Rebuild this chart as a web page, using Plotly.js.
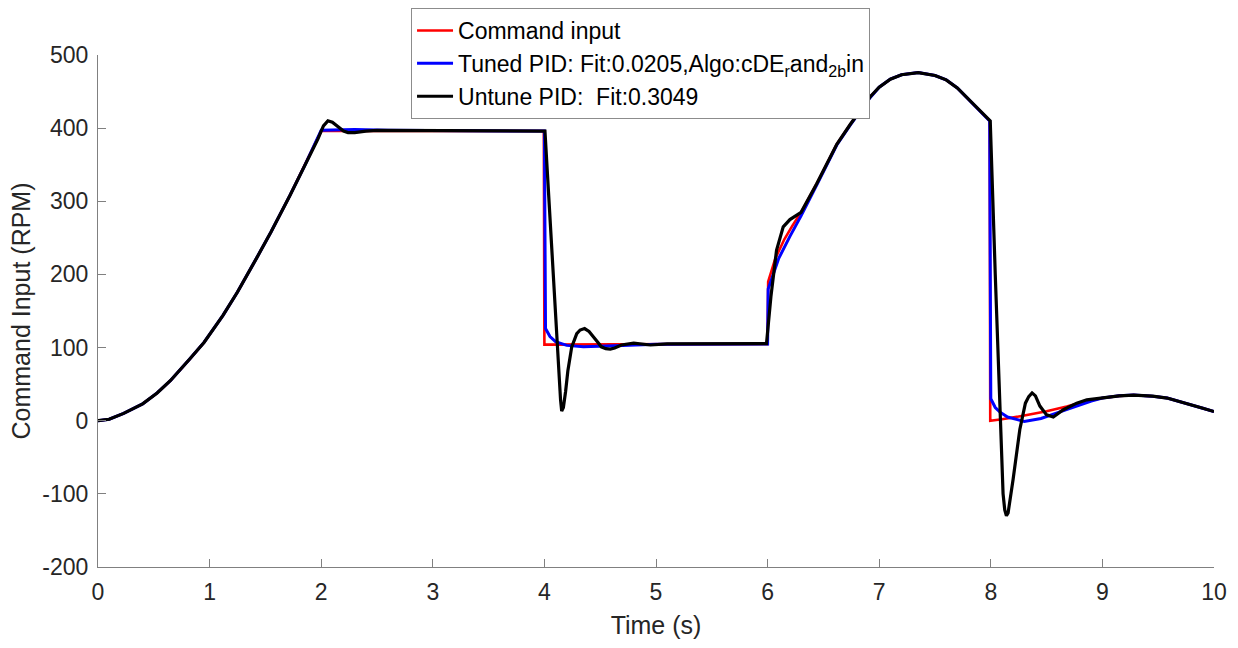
<!DOCTYPE html>
<html>
<head>
<meta charset="utf-8">
<script src="https://cdn.plot.ly/plotly-3.0.1.min.js"></script>
<style>html,body{margin:0;padding:0;background:#fff;}#chart{width:1238px;height:648px;}</style>
</head>
<body>
<div id="chart"></div>
<script>
// ---- Data (time in s, speed in RPM) ----
const cmdTime = [0,0.1,0.23,0.4,0.53,0.65,0.82,0.95,1.12,1.25,1.42,1.55,1.72,1.85,2.0,
  3.995,4.0,6.0,6.005,6.07,6.15,6.22,6.3,6.44,6.53,6.62,6.74,6.83,6.92,7.0,7.1,7.2,7.35,7.5,7.6,7.7,7.85,7.99,
  7.995,8.1,8.3,8.5,8.68,8.86,9.0,9.15,9.28,9.45,9.58,9.75,9.9,10.0];
const cmdRpm = [0,2,10,23,38,55,84,107,144,176,222,258,308,348,396,
  396,104,105,190,222,248,266,285,324,352,378,405,424,443,456,467,473,476,472,466,455,432,410,
  0,2,7,13,19.5,27,31,34,35,33.5,31,24,17,12.5];

const tunedTime = [0,0.1,0.23,0.4,0.53,0.65,0.82,0.95,1.12,1.25,1.42,1.55,1.72,1.85,2.0,
  2.3,2.6,4.0,4.01,4.05,4.1,4.2,4.35,4.5,4.7,5.0,6.0,6.005,6.1,6.2,6.3,6.44,6.53,6.62,6.74,6.83,6.92,7.0,7.1,7.2,7.35,7.5,7.6,7.7,7.85,7.99,
  8.0,8.04,8.08,8.15,8.3,8.45,8.6,8.75,8.9,9.0,9.15,9.28,9.45,9.58,9.75,9.9,10.0];
const tunedRpm = [0,2,10,23,38,55,84,107,144,176,222,258,308,348,397,
  398,397,396,126,115,108,103,101,101.5,103,104.5,105,180,222,252,280,322,350,377,404,423,442,456,467,473,476,472,466,455,432,410,
  30,18,12,5,-1,3,11,19,27,31,34,35,33.5,31,24,17,12.5];

const untunedTime = [0,0.1,0.23,0.4,0.53,0.65,0.82,0.95,1.12,1.25,1.42,1.55,1.72,1.85,1.97,
  2.02,2.06,2.1,2.15,2.2,2.24,2.3,2.4,2.5,4.005,4.05,4.1,4.13,4.145,4.155,4.17,4.19,4.21,4.245,4.29,4.32,4.36,4.4,4.44,4.48,4.51,4.55,4.59,4.63,4.69,4.8,4.95,5.1,5.99,
  6.03,6.08,6.14,6.2,6.3,6.44,6.53,6.62,6.74,6.83,6.92,7.0,7.1,7.2,7.35,7.5,7.6,7.7,7.85,7.995,
  8.04,8.08,8.11,8.125,8.14,8.155,8.17,8.2,8.26,8.31,8.34,8.37,8.4,8.44,8.5,8.56,8.65,8.77,8.86,9.0,9.15,9.28,9.45,9.58,9.75,9.9,10.0];
const untunedRpm = [0,2,10,23,38,55,84,107,144,176,222,258,308,348,385,
  403,410,408,402,396,394,394,396,397,396,275,140,60,28,13,18,40,68,101,119,124,126,122,115,107,101,98.5,98,99.5,103.5,106,103.5,105,105.5,
  170,233,265,275,285,324,352,378,405,424,443,456,467,473,476,472,466,455,432,410,
  200,30,-100,-122,-130,-126,-112,-80,-12,24,33,38,34,20,8,5,15,24,28.6,31,34,35,33.5,31,24,17,12.5];

const xTicks = [0,1,2,3,4,5,6,7,8,9,10];
const yTicks = [-200,-100,0,100,200,300,400,500];

const fontFam = '"Liberation Sans", Arial, Helvetica, sans-serif';

const traces = [
  {x: cmdTime, y: cmdRpm, type: 'scatter', mode: 'lines', name: 'Command input',
   line: {color: '#ff0000', width: 2.6}, legendgroup: 'a'},
  {x: tunedTime, y: tunedRpm, type: 'scatter', mode: 'lines',
   name: 'Tuned PID: Fit:0.0205,Algo:cDE<sub>r</sub>and<sub>2b</sub>in',
   line: {color: '#0000ff', width: 3}, legendgroup: 'b'},
  {x: untunedTime, y: untunedRpm, type: 'scatter', mode: 'lines',
   name: 'Untune PID:  Fit:0.3049',
   line: {color: '#000000', width: 3.2}, legendgroup: 'c'}
];

const layout = {
  width: 1238, height: 648,
  margin: {l: 98, r: 24, t: 55, b: 81, autoexpand: false},
  paper_bgcolor: '#ffffff', plot_bgcolor: '#ffffff',
  font: {family: fontFam, size: 22, color: '#262626'},
  showlegend: true,
  legend: {
    x: 0.2805, y: 1.0918, xanchor: 'left', yanchor: 'top',
    bgcolor: '#ffffff', bordercolor: '#8c8c8c', borderwidth: 1,
    font: {family: fontFam, size: 23, color: '#000000'},
    traceorder: 'grouped', tracegroupgap: 0, itemwidth: 36
  },
  xaxis: {
    range: [0, 10], tickvals: xTicks, ticktext: xTicks.map(String),
    showgrid: false, zeroline: false, showline: true, linecolor: '#808080', linewidth: 1,
    ticks: 'inside', ticklen: 8, tickcolor: '#808080', tickwidth: 1,
    tickfont: {size: 23, color: '#262626'}, ticklabelstandoff: 4,
    title: {text: 'Time (s)', font: {size: 25, color: '#262626'}, standoff: 12},
    mirror: false
  },
  yaxis: {
    range: [-200, 500], tickvals: yTicks, ticktext: yTicks.map(String),
    showgrid: false, zeroline: false, showline: true, linecolor: '#808080', linewidth: 1,
    ticks: 'inside', ticklen: 8, tickcolor: '#808080', tickwidth: 1,
    tickfont: {size: 23, color: '#262626'}, ticklabelstandoff: 4,
    title: {text: 'Command Input (RPM)', font: {size: 25, color: '#262626'}, standoff: 4},
    mirror: false
  }
};

Plotly.newPlot('chart', traces, layout, {displayModeBar: false, staticPlot: true});
</script>
</body>
</html>
